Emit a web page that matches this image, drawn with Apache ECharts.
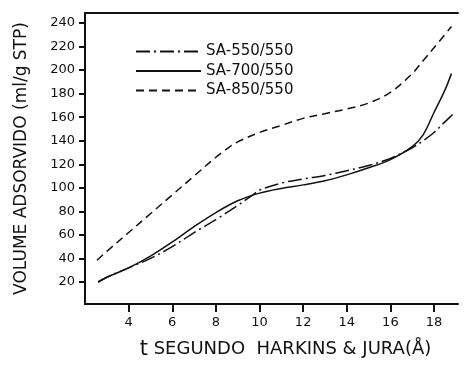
<!DOCTYPE html>
<html>
<head>
<meta charset="utf-8">
<script src="https://cdn.jsdelivr.net/npm/echarts@6/dist/echarts.min.js"></script>
<style>
  html, body { margin: 0; padding: 0; background: #fff; }
  #chart { width: 468px; height: 365px; }
</style>
</head>
<body>
<div id="chart"></div>
<script>
const xTicks = [4, 6, 8, 10, 12, 14, 16, 18]
const yTicks = [20, 40, 60, 80, 100, 120, 140, 160, 180, 200, 220, 240]

const sa550 = [
  [2.6, 20], [3, 24], [4, 32], [5, 40], [6, 50], [7, 62], [8, 73], [9, 85],
  [9.7, 94], [10, 98], [11, 104], [12, 107.5], [13, 110.5], [14, 114.5],
  [15, 119], [16, 125], [17, 134], [17.5, 140], [18, 147], [18.5, 156], [18.9, 163]
]
const sa700 = [
  [2.6, 20], [3, 24], [4, 32], [5, 42], [6, 54], [7, 67], [8, 79], [9, 89],
  [10, 95.5], [11, 99.5], [12, 102.5], [13, 106], [14, 111], [15, 117],
  [16, 124], [17, 135], [17.5, 145], [18, 164], [18.5, 183], [18.8, 197]
]
const sa850 = [
  [2.55, 38.5], [3, 46], [4, 62], [5, 78], [6, 94], [7, 110], [8, 126],
  [8.5, 133], [9, 139], [10, 147], [11, 153], [12, 159], [13, 163], [14, 167],
  [15, 172], [16, 181], [17, 197], [17.5, 208], [18, 219], [18.8, 237]
]

const ink = '#111'
const font = 'DejaVu Sans'

const chart = echarts.init(document.getElementById('chart'))

const line = (name, data, type) => ({
  name,
  type: 'line',
  data,
  smooth: 0.35,
  symbol: 'none',
  lineStyle: { color: ink, width: 1.5, type },
  itemStyle: { color: ink }
})

chart.setOption({
  animation: false,
  grid: { left: 85, right: 10, top: 13, bottom: 61 },
  legend: {
    orient: 'vertical',
    left: 130,
    top: 39,
    itemWidth: 65,
    itemHeight: 14,
    itemGap: 4.5,
    itemStyle: { opacity: 0 },
    textStyle: { fontFamily: font, fontSize: 15, color: ink },
    data: ['SA-550/550', 'SA-700/550', 'SA-850/550']
  },
  xAxis: [
    {
      type: 'value',
      min: 2,
      max: 19.1,
      splitLine: { show: false },
      axisLine: { lineStyle: { color: ink, width: 2 } },
      axisTick: { length: 8, lineStyle: { color: ink, width: 2 }, customValues: xTicks },
      axisLabel: { customValues: xTicks, margin: 12, fontFamily: font, fontSize: 13, color: ink },
      name: '{t|t} SEGUNDO  HARKINS & JURA(Å)',
      nameLocation: 'middle',
      nameGap: 35,
      nameTextStyle: {
        fontFamily: font, fontSize: 18, color: ink, padding: [0, 0, 0, 28],
        rich: { t: { fontFamily: font, fontSize: 21, color: ink } }
      }
    },
    {
      type: 'value',
      position: 'top',
      min: 2,
      max: 19.1,
      splitLine: { show: false },
      axisLine: { show: true, lineStyle: { color: ink, width: 2 } },
      axisTick: { show: false },
      axisLabel: { show: false }
    }
  ],
  yAxis: {
    type: 'value',
    min: 1.3,
    max: 248.5,
    splitLine: { show: false },
    axisLine: { show: true, lineStyle: { color: ink, width: 2 } },
    axisTick: { length: 6, lineStyle: { color: ink, width: 2 }, customValues: yTicks },
    axisLabel: { customValues: yTicks, margin: 10, fontFamily: font, fontSize: 13, color: ink },
    name: 'VOLUME ADSORVIDO (ml/g STP)',
    nameLocation: 'middle',
    nameGap: 55,
    nameTextStyle: { fontFamily: font, fontSize: 17, color: ink }
  },
  series: [
    line('SA-550/550', sa550, [14, 4, 2, 4]),
    line('SA-700/550', sa700, 'solid'),
    line('SA-850/550', sa850, [8, 5])
  ]
})
</script>
</body>
</html>
